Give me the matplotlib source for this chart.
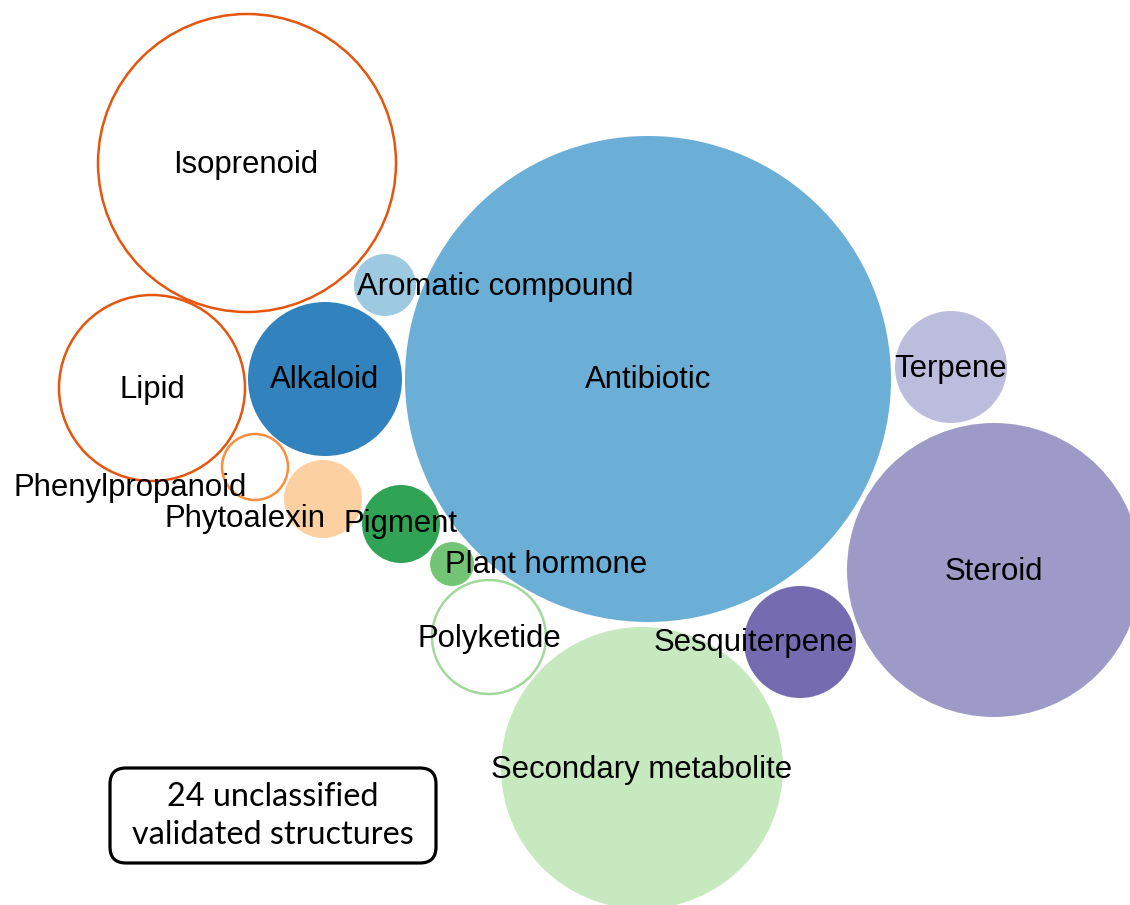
import matplotlib
matplotlib.use("Agg")
import matplotlib.pyplot as plt
from matplotlib.patches import Circle, FancyBboxPatch

# bubble data (pixel space of the original figure, y downwards)
names = ["Isoprenoid", "Lipid", "Phenylpropanoid", "Phytoalexin", "Alkaloid",
         "Aromatic compound", "Antibiotic", "Pigment", "Plant hormone",
         "Polyketide", "Secondary metabolite", "Sesquiterpene", "Steroid", "Terpene"]
cx = [247, 152, 255, 323, 325, 385, 648, 401, 452, 489, 642, 800, 994, 951]
cy = [163, 388, 467, 499, 379, 285, 379, 524, 564, 637, 768, 642, 570, 367]
radius = [150, 94, 34, 39, 77, 31, 243, 39, 22, 58, 141, 56, 147, 56]
fills = ["white", "white", "white", "#FDD0A2", "#3182BD", "#9ECAE1", "#6BAED6",
         "#31A354", "#74C476", "white", "#C7E9C0", "#756BB1", "#9E9AC8", "#BCBDDC"]
edges = ["#E6550D", "#E6550D", "#FD8D3C", None, None, None, None,
         None, None, "#A1D99B", None, None, None, None]

# label anchor (text centre)
lx = [246, 152, 130, 245, 325, 495, 648, 401, 546, 489, 642, 754, 994, 951]
ly = [165, 390, 488, 519, 380, 287, 380, 524, 565, 639, 770, 643, 572, 369]

note = "24 unclassified\nvalidated structures"

W, H = 1130, 905
fig = plt.figure(figsize=(W / 100, H / 100), dpi=100)
ax = fig.add_axes([0, 0, 1, 1])
ax.set_xlim(0, W)
ax.set_ylim(H, 0)
ax.set_aspect("equal")
ax.axis("off")

for i in range(len(names)):
    if edges[i] is None:
        c = Circle((cx[i], cy[i]), radius[i], facecolor=fills[i], edgecolor="none", zorder=1)
    else:
        c = Circle((cx[i], cy[i]), radius[i] - 1, facecolor=fills[i], edgecolor=edges[i],
                   linewidth=1.8, zorder=1)
    ax.add_patch(c)

for i in range(len(names)):
    ax.text(lx[i], ly[i], names[i], ha="center", va="center", fontsize=22.4,
            family=["Liberation Sans", "DejaVu Sans"], color="black", zorder=3)

box = FancyBboxPatch((110, 768), 326, 95, boxstyle="round,pad=0,rounding_size=16",
                     facecolor="white", edgecolor="black", linewidth=2.3, zorder=2)
ax.add_patch(box)
ax.text(273, 816, note, ha="center", va="center", fontsize=23.3, linespacing=1.32,
        family=["Lato", "DejaVu Sans"], color="black", zorder=3)

fig.savefig("out.png", dpi=100)
